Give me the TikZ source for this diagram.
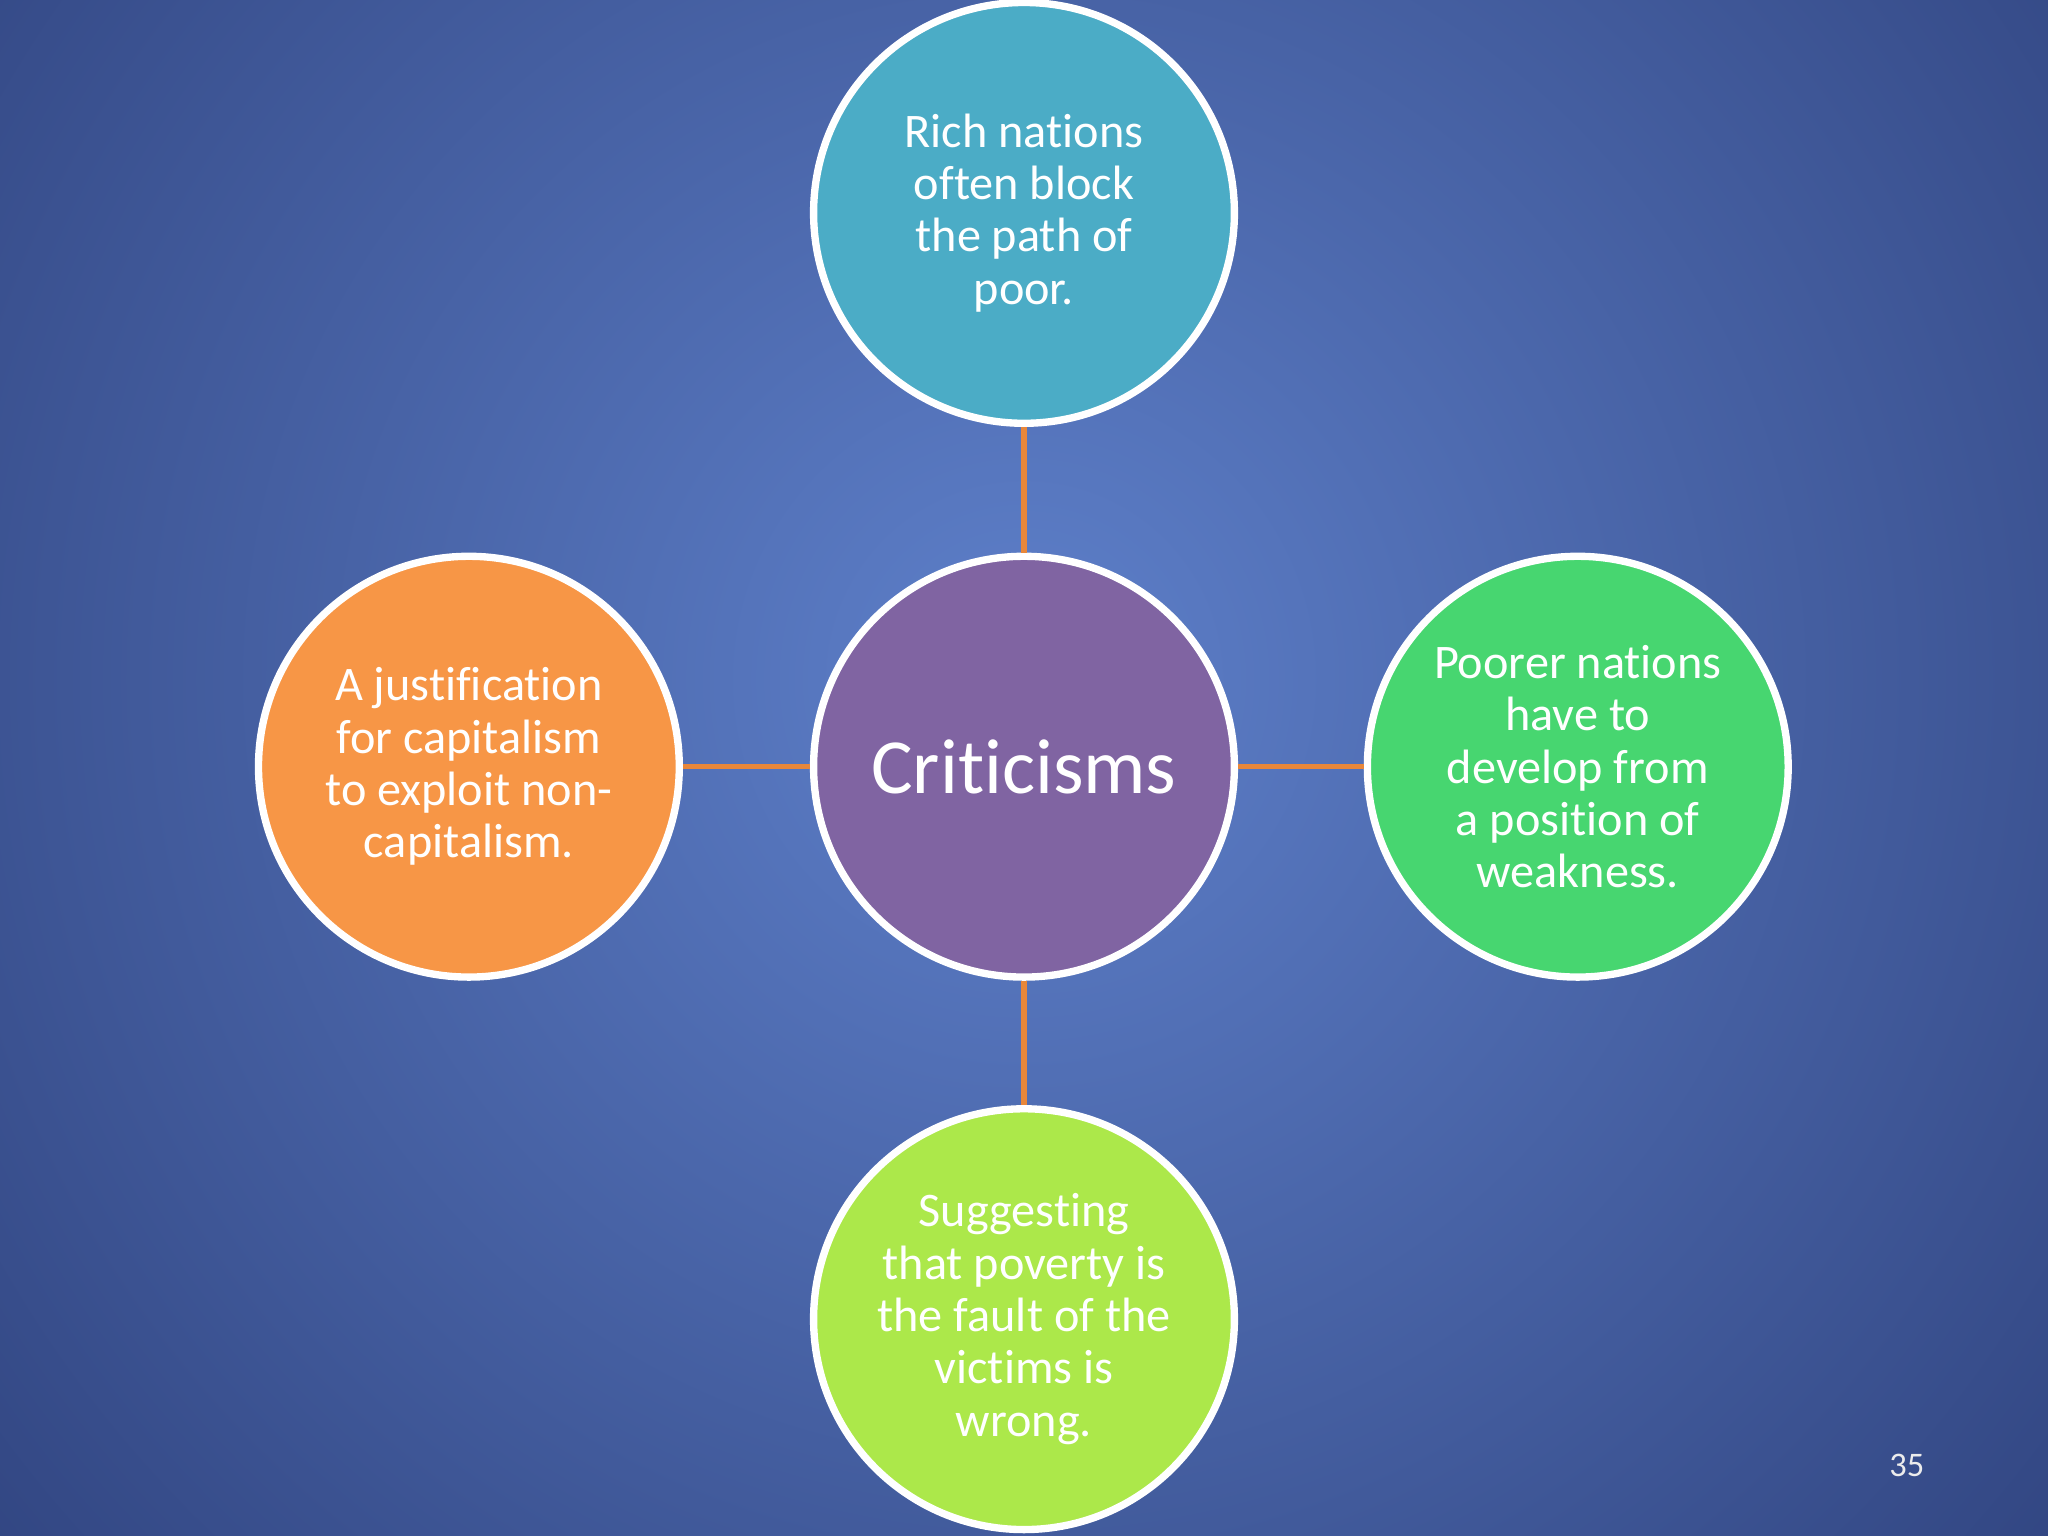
\documentclass[tikz,border=0pt]{standalone}
\usepackage{fontspec}
\setmainfont{Carlito}[RawFeature={-liga;-clig;-dlig;-calt;-hlig}]
\definecolor{bgin}{HTML}{5E80CA}
\definecolor{bgout}{HTML}{1E2C62}
\definecolor{ctop}{HTML}{4BACC6}
\definecolor{cmid}{HTML}{8064A2}
\definecolor{cleft}{HTML}{F79646}
\definecolor{cright}{HTML}{47D670}
\definecolor{cbot}{HTML}{ACE84A}
\definecolor{link}{HTML}{E8873A}
\begin{document}
\begin{tikzpicture}[x=0.01cm,y=-0.01cm,
  bub/.style={circle,draw=white,line width=1.6pt,minimum size=3.22cm,inner sep=0pt,text=white,align=center,font=\fontsize{10.5}{11.4}\selectfont},
  conn/.style={draw=link,line width=1.2pt}]
\useasboundingbox (0,0) rectangle (1568,1176);
\begin{scope}
\clip (0,0) rectangle (1568,1176);
\shade[inner color=bgin,outer color=bgout] (784,520) circle (1500);
\end{scope}
\node[bub,fill=cmid,font=\fontsize{17}{20}\selectfont] (c) at (784,587) {Criticisms};
\node[bub,fill=ctop] (t) at (784,163) {Rich nations\\often block\\the path of\\poor.};
\node[bub,fill=cleft] (l) at (359,587) {A justification\\for capitalism\\to exploit non-\\capitalism.};
\node[bub,fill=cright] (r) at (1208,587) {Poorer nations\\have to\\develop from\\a position of\\weakness.};
\node[bub,fill=cbot] (b) at (784,1010) {Suggesting\\that poverty is\\the fault of the\\victims is\\wrong.};
\draw[conn] (c) -- (t);
\draw[conn] (c) -- (l);
\draw[conn] (c) -- (r);
\draw[conn] (c) -- (b);
\node[text=white!85!gray,font=\fontsize{7.5}{9}\selectfont] (pg) at (1460,1122) {35};
\end{tikzpicture}
\end{document}
